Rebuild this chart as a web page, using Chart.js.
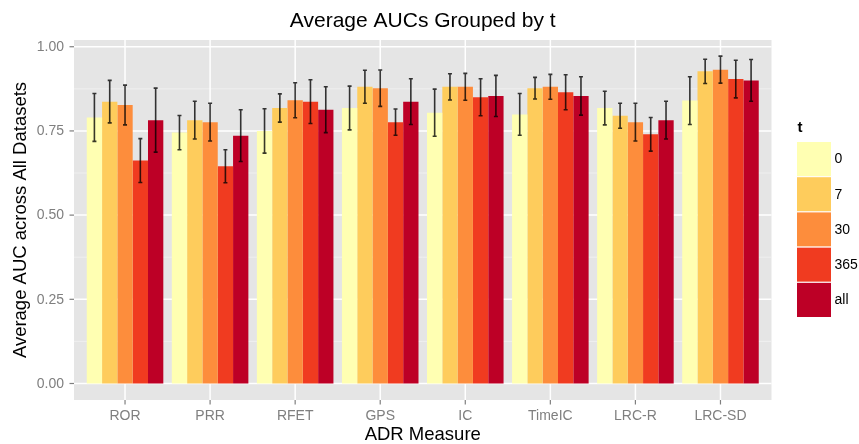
<!DOCTYPE html>
<html>
<head>
<meta charset="utf-8">
<script src="https://cdn.jsdelivr.net/npm/chart.js@4"></script>
<style>
  html, body { margin: 0; padding: 0; background: #fff; }
  #wrap { width: 859px; height: 444px; position: relative; }
</style>
</head>
<body>
<div id="wrap"><canvas id="aucChart"></canvas></div>
<script>
// categories and series
const categories = ['ROR', 'PRR', 'RFET', 'GPS', 'IC', 'TimeIC', 'LRC-R', 'LRC-SD'];
const tLevels = ['0', '7', '30', '365', 'all'];
const tColors = ['#FFFFB2', '#FECC5C', '#FD8D3C', '#F03B20', '#BD0026'];

const auc0   = [0.790, 0.745, 0.750, 0.818, 0.804, 0.799, 0.818, 0.840];
const auc7   = [0.837, 0.782, 0.818, 0.881, 0.881, 0.877, 0.795, 0.927];
const auc30  = [0.827, 0.776, 0.841, 0.877, 0.881, 0.881, 0.776, 0.932];
const auc365 = [0.662, 0.645, 0.837, 0.776, 0.850, 0.865, 0.740, 0.904];
const aucAll = [0.782, 0.736, 0.813, 0.837, 0.854, 0.854, 0.782, 0.900];

// half width of error bars
const err0   = [0.071, 0.051, 0.066, 0.065, 0.070, 0.062, 0.050, 0.071];
const err7   = [0.063, 0.056, 0.042, 0.049, 0.039, 0.032, 0.037, 0.036];
const err30  = [0.059, 0.056, 0.052, 0.054, 0.040, 0.037, 0.056, 0.040];
const err365 = [0.065, 0.049, 0.065, 0.039, 0.055, 0.052, 0.050, 0.056];
const errAll = [0.095, 0.077, 0.068, 0.068, 0.061, 0.057, 0.056, 0.062];

const yTicks = [0, 0.25, 0.5, 0.75, 1];
const yMinor = [0.125, 0.375, 0.625, 0.875];

const seriesValues = [auc0, auc7, auc30, auc365, aucAll];
const seriesErrors = [err0, err7, err30, err365, errAll];

const FONT = '"Liberation Sans", Arial, Helvetica, sans-serif';

/**
 * ggplot-like panel, grid, axes and legend
 */
const panelPlugin = {
    id: 'panel',
    beforeDatasetsDraw(chart) {
        const ctx = chart.ctx, x = chart.scales.x, y = chart.scales.y, a = chart.chartArea;
        const left = x.getPixelForValue(-0.6), right = x.getPixelForValue(categories.length - 0.4);
        ctx.save();
        ctx.fillStyle = '#E5E5E5';
        ctx.fillRect(left, a.top, right - left, a.bottom - a.top);

        ctx.strokeStyle = '#F2F2F2'; ctx.lineWidth = 0.8;
        yMinor.forEach(v => {
            const py = y.getPixelForValue(v);
            ctx.beginPath(); ctx.moveTo(left, py); ctx.lineTo(right, py); ctx.stroke();
        });
        ctx.strokeStyle = '#FFFFFF'; ctx.lineWidth = 1.5;
        yTicks.forEach(v => {
            const py = y.getPixelForValue(v);
            ctx.beginPath(); ctx.moveTo(left, py); ctx.lineTo(right, py); ctx.stroke();
        });
        categories.forEach((c, i) => {
            const px = x.getPixelForValue(i);
            ctx.beginPath(); ctx.moveTo(px, a.top); ctx.lineTo(px, a.bottom); ctx.stroke();
        });

        // ticks and labels
        ctx.strokeStyle = '#7F7F7F'; ctx.lineWidth = 1.2;
        ctx.fillStyle = '#7F7F7F';
        ctx.font = '14px ' + FONT;
        ctx.textAlign = 'right'; ctx.textBaseline = 'middle';
        yTicks.forEach(v => {
            const py = y.getPixelForValue(v);
            ctx.beginPath(); ctx.moveTo(left - 4.5, py); ctx.lineTo(left, py); ctx.stroke();
            ctx.fillText(v.toFixed(2), left - 10, py + 0.5);
        });
        ctx.textAlign = 'center'; ctx.textBaseline = 'top';
        categories.forEach((c, i) => {
            const px = x.getPixelForValue(i);
            ctx.beginPath(); ctx.moveTo(px, a.bottom); ctx.lineTo(px, a.bottom + 4.5); ctx.stroke();
            ctx.fillText(c, px, a.bottom + 9);
        });

        // titles
        const cx = (left + right) / 2;
        ctx.fillStyle = '#000';
        ctx.font = '21px ' + FONT;
        ctx.textBaseline = 'middle';
        ctx.fillText('Average AUCs Grouped by t', cx, 21);
        ctx.font = '18.5px ' + FONT;
        ctx.fillText('ADR Measure', cx, 435);
        ctx.save();
        ctx.translate(21, (a.top + a.bottom) / 2);
        ctx.rotate(-Math.PI / 2);
        ctx.fillText('Average AUC across All Datasets', 0, 0);
        ctx.restore();

        // legend
        const lx = 796.5, ly = 141.5, kw = 35, kh = 35.2;
        ctx.font = 'bold 15px ' + FONT;
        ctx.textAlign = 'left';
        ctx.fillText('t', lx + 1, 128);
        ctx.font = '14px ' + FONT;
        tLevels.forEach((t, i) => {
            const ky = ly + i * kh;
            ctx.fillStyle = tColors[i];
            ctx.fillRect(lx, ky, kw, kh);
            ctx.strokeStyle = '#FFFFFF'; ctx.lineWidth = 1;
            ctx.strokeRect(lx, ky, kw, kh);
            ctx.fillStyle = '#000';
            ctx.fillText(t, lx + kw + 3, ky + kh / 2 + 0.5);
        });
        ctx.restore();
    }
};

const errorBarPlugin = {
    id: 'errorBars',
    afterDatasetsDraw(chart) {
        const ctx = chart.ctx, y = chart.scales.y;
        ctx.save();
        ctx.strokeStyle = 'rgba(0,0,0,0.78)';
        ctx.lineWidth = 1.6;
        chart.data.datasets.forEach((ds, i) => {
            chart.getDatasetMeta(i).data.forEach((bar, j) => {
                const m = ds.data[j], e = seriesErrors[i][j];
                const yHi = y.getPixelForValue(m + e), yLo = y.getPixelForValue(m - e);
                ctx.beginPath();
                ctx.moveTo(bar.x, yHi); ctx.lineTo(bar.x, yLo);
                ctx.moveTo(bar.x - 2, yHi); ctx.lineTo(bar.x + 2, yHi);
                ctx.moveTo(bar.x - 2, yLo); ctx.lineTo(bar.x + 2, yLo);
                ctx.stroke();
            });
        });
        ctx.restore();
    }
};

new Chart(document.getElementById('aucChart'), {
    type: 'bar',
    data: {
        labels: categories,
        datasets: tLevels.map((t, i) => ({
            label: t,
            data: seriesValues[i],
            backgroundColor: tColors[i],
            borderWidth: 0,
            categoryPercentage: 0.9,
            barPercentage: 1.0
        }))
    },
    options: {
        responsive: true,
        maintainAspectRatio: false,
        animation: false,
        layout: { padding: { left: 82.5, right: 96, top: 40, bottom: 44 } },
        plugins: { legend: { display: false }, title: { display: false }, tooltip: { enabled: false } },
        scales: {
            x: { type: 'category', offset: true, display: false },
            y: { min: -0.049, max: 1.02, display: false }
        }
    },
    plugins: [panelPlugin, errorBarPlugin]
});
</script>
</body>
</html>
